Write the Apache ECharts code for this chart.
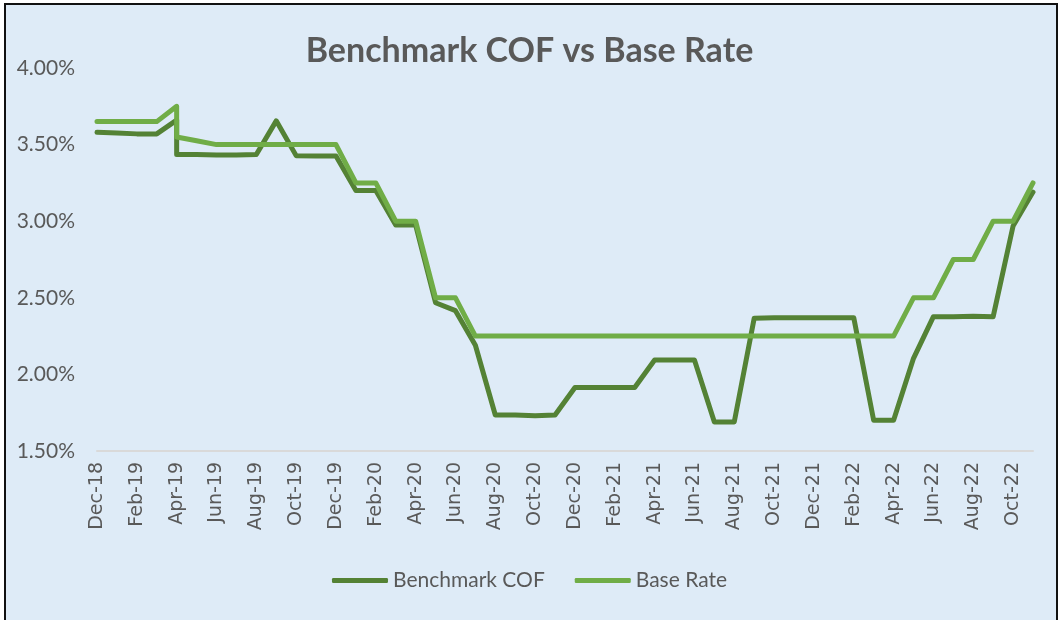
<!DOCTYPE html>
<html>
<head>
<meta charset="utf-8">
<script src="https://cdn.jsdelivr.net/npm/echarts@6/dist/echarts.min.js"></script>
<style>
html,body{margin:0;padding:0;background:#fff;}
#chart{width:1059px;height:620px;}
</style>
</head>
<body>
<div id="chart"></div>
<script>
// Month of each observation (Apr-19 appears twice: two readings that month)
const months = ["Dec-18","Jan-19","Feb-19","Mar-19","Apr-19","Apr-19","May-19","Jun-19","Jul-19","Aug-19","Sep-19","Oct-19","Nov-19","Dec-19",
  "Jan-20","Feb-20","Mar-20","Apr-20","May-20","Jun-20","Jul-20","Aug-20","Sep-20","Oct-20","Nov-20","Dec-20",
  "Jan-21","Feb-21","Mar-21","Apr-21","May-21","Jun-21","Jul-21","Aug-21","Sep-21","Oct-21","Nov-21","Dec-21",
  "Jan-22","Feb-22","Mar-22","Apr-22","May-22","Jun-22","Jul-22","Aug-22","Sep-22","Oct-22","Nov-22"];
const benchmarkCOF = [3.58,3.575,3.57,3.57,3.66,3.435,3.435,3.432,3.432,3.435,3.655,3.428,3.425,3.425,
  3.20,3.20,2.975,2.975,2.468,2.416,2.19,1.735,1.735,1.73,1.735,1.915,
  1.915,1.915,1.915,2.094,2.094,2.094,1.69,1.69,2.366,2.37,2.37,2.37,
  2.37,2.37,1.70,1.70,2.105,2.377,2.376,2.38,2.377,2.969,3.19];
const baseRate = [3.65,3.65,3.65,3.65,3.75,3.55,3.525,3.50,3.50,3.50,3.50,3.50,3.50,3.50,
  3.25,3.25,3.00,3.00,2.50,2.50,2.25,2.25,2.25,2.25,2.25,2.25,
  2.25,2.25,2.25,2.25,2.25,2.25,2.25,2.25,2.25,2.25,2.25,2.25,
  2.25,2.25,2.25,2.25,2.50,2.50,2.75,2.75,3.00,3.00,3.25];
const yTicks = [1.5, 4.0, 0.5]; // min, max, step
const seriesNames = ["Benchmark COF","Base Rate"];
const title = "Benchmark COF vs Base Rate";

const MON = ["Jan","Feb","Mar","Apr","May","Jun","Jul","Aug","Sep","Oct","Nov","Dec"];
const startYear = 2018, startMonth = 11; // Dec-18 = index 0
function monthIndex(lbl){
  const [m, y] = lbl.split("-");
  return (2000 + parseInt(y,10) - startYear) * 12 + MON.indexOf(m) - startMonth;
}
function monthLabel(i){
  const t = startMonth + i;
  const y = startYear + Math.floor(t/12);
  return MON[t%12] + "-" + String(y%100).padStart(2,"0");
}
const xMax = monthIndex(months[months.length-1]);

const chart = echarts.init(document.getElementById('chart'));
chart.setOption({
  backgroundColor: '#ffffff',
  animation: false,
  graphic: [{
    type: 'rect', z: -10, silent: true,
    shape: {x: 5, y: 4, width: 1052, height: 640},
    style: {fill: '#DEEBF7', stroke: '#111111', lineWidth: 2}
  }],
  title: {
    text: title, left: 'center', top: 29,
    textStyle: {fontFamily: 'Lato', fontWeight: 'bold', fontSize: 34, color: '#595959'}
  },
  legend: {
    bottom: 24, left: 'center',
    data: seriesNames,
    icon: 'roundRect', itemWidth: 56, itemHeight: 5, itemGap: 30,
    textStyle: {fontFamily: 'Lato', fontSize: 21, color: '#595959'}
  },
  grid: {left: 97, right: 26, top: 68, bottom: 169},
  xAxis: {
    type: 'value', min: 0, max: xMax, interval: 2,
    axisLine: {show: true, lineStyle: {color: '#D9D9D9', width: 2}},
    axisTick: {show: false},
    splitLine: {show: false},
    axisLabel: {
      rotate: 90, margin: 11, showMaxLabel: false,
      fontFamily: 'DejaVu Sans', fontSize: 19, color: '#595959',
      formatter: v => (v % 2 === 0 ? monthLabel(v) : '')
    }
  },
  yAxis: {
    type: 'value', min: yTicks[0], max: yTicks[1], interval: yTicks[2],
    axisLine: {show: false}, axisTick: {show: false},
    splitLine: {show: false},
    axisLabel: {
      margin: 22, fontFamily: 'Lato', fontSize: 21, color: '#595959',
      formatter: v => v.toFixed(2) + '%'
    }
  },
  series: [
    {
      name: seriesNames[0], type: 'line', showSymbol: false,
      data: months.map((m,i) => [monthIndex(m), benchmarkCOF[i]]),
      lineStyle: {color: '#548235', width: 5, cap: 'round', join: 'round'},
      itemStyle: {color: '#548235'}
    },
    {
      name: seriesNames[1], type: 'line', showSymbol: false,
      data: months.map((m,i) => [monthIndex(m), baseRate[i]]),
      lineStyle: {color: '#70AD47', width: 5, cap: 'round', join: 'round'},
      itemStyle: {color: '#70AD47'}
    }
  ]
});
</script>
</body>
</html>
